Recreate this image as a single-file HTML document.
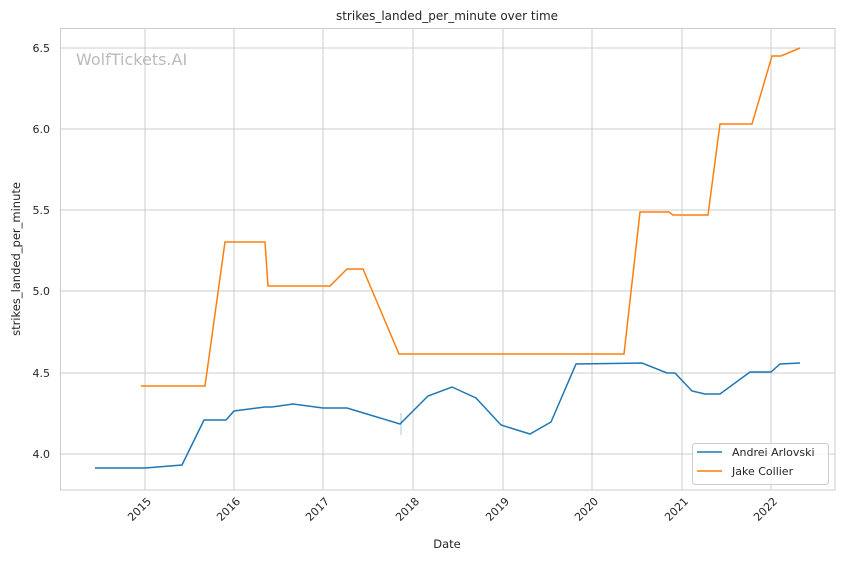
<!DOCTYPE html>
<html><head><style>body{margin:0;background:#fff}svg{display:block;font-family:"DejaVu Sans","Liberation Sans",sans-serif}</style></head><body>
<svg width="844" height="561" viewBox="0 0 844 561" xmlns="http://www.w3.org/2000/svg">
<rect width="844" height="561" fill="#fff"/>
<g stroke="#cccccc" stroke-width="1">
<line x1="145" y1="28" x2="145" y2="490"/><line x1="234" y1="28" x2="234" y2="490"/><line x1="323" y1="28" x2="323" y2="490"/><line x1="413" y1="28" x2="413" y2="490"/><line x1="503" y1="28" x2="503" y2="490"/><line x1="592" y1="28" x2="592" y2="490"/><line x1="682" y1="28" x2="682" y2="490"/><line x1="771" y1="28" x2="771" y2="490"/>
<line x1="60" y1="48" x2="835" y2="48"/><line x1="60" y1="129" x2="835" y2="129"/><line x1="60" y1="210" x2="835" y2="210"/><line x1="60" y1="291" x2="835" y2="291"/><line x1="60" y1="373" x2="835" y2="373"/><line x1="60" y1="454" x2="835" y2="454"/>
<rect x="60.5" y="28.5" width="774.5" height="461.5" fill="none"/>
</g>
<text x="76" y="65" font-size="16" fill="#bbbbbb">WolfTickets.AI</text>
<g font-size="11" fill="#262626" text-anchor="end">
<text x="50" y="52">6.5</text><text x="50" y="133">6.0</text><text x="50" y="214">5.5</text><text x="50" y="295">5.0</text><text x="50" y="377">4.5</text><text x="50" y="458">4.0</text>
</g>
<g font-size="11" fill="#262626" text-anchor="end">
<text transform="translate(152,502) rotate(-45)">2015</text><text transform="translate(241,502) rotate(-45)">2016</text><text transform="translate(330,502) rotate(-45)">2017</text><text transform="translate(420,502) rotate(-45)">2018</text><text transform="translate(510,502) rotate(-45)">2019</text><text transform="translate(599,502) rotate(-45)">2020</text><text transform="translate(689,502) rotate(-45)">2021</text><text transform="translate(778,502) rotate(-45)">2022</text>
</g>
<text x="447" y="548" font-size="11.5" fill="#262626" text-anchor="middle">Date</text>
<text transform="translate(20,259) rotate(-90)" font-size="11.5" fill="#262626" text-anchor="middle">strikes_landed_per_minute</text>
<text x="447" y="20" font-size="12" fill="#262626" text-anchor="middle">strikes_landed_per_minute over time</text>
<line x1="401" y1="413" x2="401" y2="435" stroke="#a6c8e4" stroke-width="1"/>
<polyline fill="none" stroke="#1f77b4" stroke-width="1.5" points="95,468 145,468 182,465 204,420 226,420 234,411 265,407 272,407 293,404 323,408 347,408 400,424 428,396 452,387 476,398 501,425 530,434 551,422 576,364 642,363 667,373 675,373 692,391 705,394 720,394 750,372 771,372 780,364 800,363"/>
<polyline fill="none" stroke="#ff7f0e" stroke-width="1.5" points="141,386 205,386 225,242 265,242 268,286 330,286 347,269 363,269 399,354 624,354 640,212 669,212 673,215 708,215 720,124 752,124 772,56 781,56 800,48"/>
<rect x="692.5" y="443.5" width="136" height="41" rx="3" fill="#fff" fill-opacity="0.8" stroke="#cccccc"/>
<line x1="697" y1="452" x2="722" y2="452" stroke="#1f77b4" stroke-width="1.5"/>
<line x1="697" y1="471" x2="722" y2="471" stroke="#ff7f0e" stroke-width="1.5"/>
<g font-size="11" fill="#262626"><text x="732" y="456">Andrei Arlovski</text><text x="732" y="475">Jake Collier</text></g>
</svg>
</body></html>
